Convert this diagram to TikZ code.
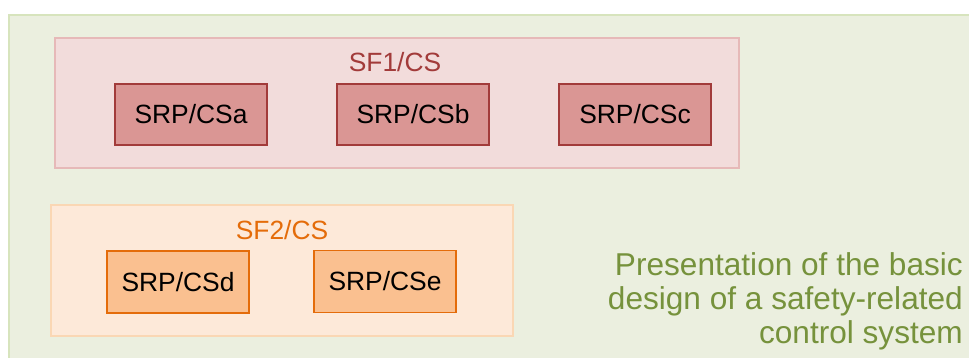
\documentclass[tikz,border=0pt]{standalone}
\usepackage{fontspec}
\setmainfont{Liberation Sans}
\usepackage{xcolor}
\usetikzlibrary{positioning}
\definecolor{bggreen}{HTML}{EBEFDF}
\definecolor{bgline}{HTML}{D7E4BD}
\definecolor{redfill}{HTML}{F2DCDB}
\definecolor{redline}{HTML}{E6B9B8}
\definecolor{redbox}{HTML}{DA9694}
\definecolor{reddark}{HTML}{A23B3A}
\definecolor{orfill}{HTML}{FDE9D9}
\definecolor{orline}{HTML}{FAD7B4}
\definecolor{orbox}{HTML}{FAC090}
\definecolor{ordark}{HTML}{E46C0A}
\definecolor{greentext}{HTML}{76923C}
\tikzset{
    tbox/.style = {align=center, inner sep=0pt, text centered, font=\fontsize{26.4}{30}\selectfont},
    group_red/.style = {tbox, rectangle, draw=redline, fill=redfill, line width=1.5pt, minimum width=684pt, minimum height=130pt},
    group_or/.style = {tbox, rectangle, draw=orline, fill=orfill, line width=1.5pt, minimum width=462pt, minimum height=131pt},
    srp_red/.style = {tbox, rectangle, draw=reddark, fill=redbox, line width=1.5pt, minimum width=152pt, minimum height=61pt},
    srp_or/.style = {tbox, rectangle, draw=ordark, fill=orbox, line width=1.5pt, minimum width=142pt, minimum height=62pt},
    grouplabel/.style = {tbox, anchor=center}
}
\begin{document}
\begin{tikzpicture}[x=1pt, y=-1pt]
    \useasboundingbox (0,0) rectangle (969,358);
    \clip (0,0) rectangle (969,358);
    \draw [draw=bgline, fill=bggreen, line width=1.5pt] (9,15) rectangle (990,380);

    % first safety function
    \node [group_red] (sf1) at (397,103) {};
    \node [grouplabel, text=reddark] (sf1label) at (395,62) {SF1/CS};
    \node [srp_red] (csa) at (191,114.5) {SRP/CSa};
    \node [srp_red] (csb) at (413,114.5) {SRP/CSb};
    \node [srp_red] (csc) at (635,114.5) {SRP/CSc};

    % second safety function
    \node [group_or] (sf2) at (282,270.5) {};
    \node [grouplabel, text=ordark] (sf2label) at (282,230) {SF2/CS};
    \node [srp_or] (csd) at (178,282) {SRP/CSd};
    \node [srp_or] (cse) at (385,281.5) {SRP/CSe};

    \node [align=right, inner sep=0pt, anchor=north east, text=greentext,
           font=\fontsize{31.6}{34}\selectfont] (caption) at (963,252)
        {Presentation of the basic\\design of a safety-related\\control system};
\end{tikzpicture}
\end{document}
